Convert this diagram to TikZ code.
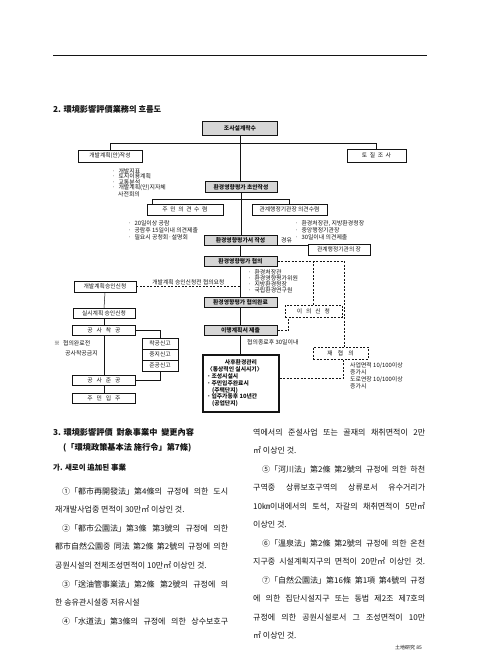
\documentclass[tikz,border=0pt]{standalone}
\usepackage{fontspec}
\setmainfont{Noto Sans CJK KR}
\usetikzlibrary{positioning,calc}
\definecolor{inkcol}{HTML}{141414}
\definecolor{keyfill}{HTML}{D6D6D6}

\begin{document}
\begin{tikzpicture}[x=1pt,y=-1pt,
  box/.style={draw=inkcol,line width=0.5pt,minimum height=11pt,inner sep=0.5pt,text=inkcol,font=\fontsize{5.8}{6.5}\selectfont},
  keybox/.style={box,fill=keyfill,line width=1pt,font=\fontsize{5.8}{6.5}\selectfont\bfseries},
  dbox/.style={box,dash pattern=on 2pt off 1.5pt},
  link/.style={draw=inkcol,line width=0.5pt},
  dlink/.style={link,dash pattern=on 2pt off 1.5pt},
  memo/.style={anchor=base west,inner sep=0pt,text=inkcol,font=\fontsize{5.9}{6}\selectfont},
  body/.style={anchor=base west,inner sep=0pt,text=inkcol,font=\fontsize{8}{9}\selectfont},
  headline/.style={anchor=base west,inner sep=0pt,text=inkcol,font=\fontsize{8.2}{9}\selectfont\bfseries}]
  \useasboundingbox[fill=white] (0,0) rectangle (480,655);
  \draw[line width=0.6pt,inkcol] (53,55) -- (427,55);

  \node[headline] (flowtitle) at (53,113) {2. 環境影響評價業務의 흐름도};

  % main column
  \node[keybox,minimum width=75pt,minimum height=14pt] (survey) at (240,128.5) {조사설계착수};
  \node[box,minimum width=64pt,minimum height=12pt] (plan) at (110,156) {개발계획(안)작성};
  \node[box,minimum width=59pt,minimum height=13pt] (soil) at (376.5,155.5) {토\ \ 질\ \ 조\ \ 사};
  \node[keybox,minimum width=72pt] (draft) at (241,187) {환경영향평가 초안작성};
  \node[box,minimum width=76pt] (resid) at (185,209.5) {주\ \ 민\ \ 의\ \ 견\ \ 수\ \ 렴};
  \node[box,minimum width=75pt] (agency) at (289.5,209.5) {관계행정기관장 의견수렴};
  \node[keybox,minimum width=73pt,minimum height=10pt] (report) at (240.5,240.5) {환경영향평가서 작성};
  \node[box,minimum width=62pt] (chief) at (339,249.5) {관계행정기관의 장};
  \node[keybox,minimum width=73pt,minimum height=10pt] (consult) at (240.5,261.5) {환경영향평가 협의};
  \node[keybox,minimum width=73pt,minimum height=10pt] (done) at (240.5,302.5) {환경영향평가 협의완료};
  \node[keybox,minimum width=73pt,minimum height=10pt] (impl) at (240.5,330.5) {이행계획서 제출};
  \node[box,line width=1.2pt,minimum width=76pt,minimum height=57pt,align=left,
        font=\fontsize{5.8}{6.8}\selectfont\bfseries] (post) at (241,383.5)
       {\makebox[68pt]{사후환경관리}\\〈통상적인 실시시기〉\\·\,조성시설시\\·\,주민입주완료시\\\hspace*{5pt}(주택단지)\\·\,입주가동후 10년간\\\hspace*{5pt}(공업단지)};

  % dashed side
  \node[dbox,minimum width=57pt,minimum height=12pt] (appeal) at (313.5,311) {이\ \ \ 의\ \ \ 신\ \ \ 청};
  \node[dbox,minimum width=55pt,minimum height=12pt] (recon) at (340.5,353) {재\ \ \ \ 협\ \ \ \ 의};

  % left column
  \node[box,minimum width=62pt] (apply) at (105,286.5) {개발계획승인신청};
  \node[box,minimum width=62pt,minimum height=10pt] (detail) at (104,313.5) {실시계획 승인신청};
  \node[box,minimum width=63pt,minimum height=10pt] (begin) at (104,330.5) {공\ \ \ 사\ \ \ 착\ \ \ 공};
  \node[box,minimum width=36pt] (notea) at (160,343.5) {착공신고};
  \node[box,minimum width=36pt] (noteb) at (160,354.5) {중지신고};
  \node[box,minimum width=36pt] (notec) at (160,365.5) {준공신고};
  \node[box,minimum width=63pt,minimum height=10pt] (finish) at (104,380.5) {공\ \ \ 사\ \ \ 준\ \ \ 공};
  \node[box,minimum width=63pt,minimum height=10pt] (move) at (104,398) {주\ \ \ 민\ \ \ 입\ \ \ 주};

  % connectors
  \draw[link] (survey.south) -- (survey.south |- draft.north);
  \draw[link] (plan.north) -- ++(0,-6) -| (soil.north);
  \draw[link] (draft.south) -- (draft.south |- report.north);
  \draw[link] ([xshift=5pt]resid.north west) -- ++(0,-5) -| (agency.north);
  \draw[link] (report.south) -- (report.south |- consult.north);
  \draw[link] ([yshift=1pt]report.south east) -- ([yshift=1pt]report.south east -| chief.west);
  \draw[link] (consult.south) -- (consult.south |- done.north);
  \draw[link] (done.south) -- (done.south |- impl.north);
  \draw[link] (impl.south) -- (impl.south |- post.north);
  \draw[dlink] (consult.east) -| ([xshift=4pt]recon.north);
  \draw[dlink] (appeal.north) -- (appeal.north |- consult.east);
  \draw[dlink] (impl.east) -| ([xshift=-25pt]appeal.south);
  \draw[dlink] ([yshift=5pt]post.east) -| ([xshift=3pt]recon.south);
  \draw[dlink] (apply.east) -- (apply.east -| done.north)
    node[midway,above=1pt,inner sep=0pt,text=inkcol,font=\fontsize{5.8}{6}\selectfont] (askcap) {개발계획 승인신청전 협의요청};
  \draw[link] (apply.south) -- (detail.north);
  \draw[link] (detail.south) -- (begin.north);
  \draw[link] (begin.south) -- (finish.north);
  \draw[link] (finish.south) -- (move.north);
  \draw[link] (begin.east) -| (notea.north);
  \draw[link] (notec.south) |- (finish.east);

  % notes
  \foreach [count=\i] \t in {개발지표,토지이용계획,교통분석,개발계획(안)지자체}
    \node[memo] (pl\i) at (112,{167.5+5.5*\i}) {·\hspace{3pt}\t};
  \node[memo] (pl5) at (118,196) {사전회의};
  \foreach [count=\i] \t in {20일이상 공람,공람후 15일이내 의견제출,필요시 공청회·설명회}
    \node[memo] (rs\i) at (128,{218+7*\i}) {·\hspace{3pt}\t};
  \foreach [count=\i] \t in {{환경처장관, 지방환경청장},중앙행정기관장,30일이내 의견제출}
    \node[memo] (ag\i) at (295,{218+7*\i}) {·\hspace{3pt}\t};
  \foreach [count=\i] \t in {환경처장관,환경영향평가위원,지방환경청장,국립환경연구원}
    \node[memo] (cs\i) at (248,{268+6*\i}) {·\hspace{3pt}\t};
  \node[memo] (via) at (281,242) {경유};
  \node[memo] (term) at (247,344) {협의종료후 30일이내};
  \node[memo] (ban1) at (54,345) {※\hspace{3pt}협의완료전};
  \node[memo] (ban2) at (65,355) {공사착공금지};
  \foreach [count=\i] \t in {사업면적 10/100이상,증가시,도로연장 10/100이상,증가시}
    \node[memo] (rc\i) at (350,{360+7*\i}) {\t};

  % text below
  \node[headline] (sect) at (53,435) {3. 環境影響評價\ \ 對象事業中\ \ 變更內容};
  \node[headline] (sectlaw) at (63,450) {(「環境政策基本法 施行令」第7條)};
  \node[headline,font=\fontsize{7.5}{9}\selectfont\bfseries] (sub) at (53,470) {가. 새로이 追加된 事業};
  \def\leftcol{%
    62/494/166/{①「都市再開發法」第4條의 규정에 의한 도시},%
    55/512/0/{재개발사업중 면적이 30만㎡ 이상인 것.},%
    62/531/166/{②「都市公園法」第3條 第3號의 규정에 의한},%
    55/549/173/{都市自然公園중 同法 第2條 第2號의 규정에 의한},%
    55/568/0/{공원시설의 전체조성면적이 10만㎡ 이상인 것.},%
    62/587/166/{③「送油管事業法」第2條 第2號의 규정에 의},%
    55/605/0/{한 송유관시설중 저유시설},%
    62/624/166/{④「水道法」第3條의 규정에 의한 상수보호구}%
  }
  \def\rightcol{%
    253/435/172/{역에서의 준설사업 또는 골재의 채취면적이 2만},%
    253/453/0/{㎡ 이상인 것.},%
    262/472/163/{⑤「河川法」第2條 第2號의 규정에 의한 하천},%
    253/490/172/{구역중 상류보호구역의 상류로서 유수거리가},%
    253/509/172/{10㎞이내에서의 토석, 자갈의 채취면적이 5만㎡},%
    253/527/0/{이상인 것.},%
    262/546/163/{⑥「溫泉法」第2條 第2號의 규정에 의한 온천},%
    253/564/172/{지구중 시설계획지구의 면적이 20만㎡ 이상인 것.},%
    262/583/163/{⑦「自然公園法」第16條 第1項 第4號의 규정},%
    253/601/172/{에 의한 집단시설지구 또는 동법 제2조 제7호의},%
    253/620/172/{규정에 의한 공원시설로서 그 조성면적이 10만},%
    253/638/0/{㎡ 이상인 것.}%
  }
  \foreach [count=\i] \x/\y/\w/\t in \leftcol
    \node[body] (lt\i) at (\x,\y) {\ifdim\w pt>0pt \makebox[\w pt][s]{\t}\else\t\fi};
  \foreach [count=\i] \x/\y/\w/\t in \rightcol
    \node[body] (rt\i) at (\x,\y) {\ifdim\w pt>0pt \makebox[\w pt][s]{\t}\else\t\fi};
  \node[memo,font=\fontsize{5}{6}\selectfont] (folio) at (395,649) {土地硏究 85};
\end{tikzpicture}
\end{document}
